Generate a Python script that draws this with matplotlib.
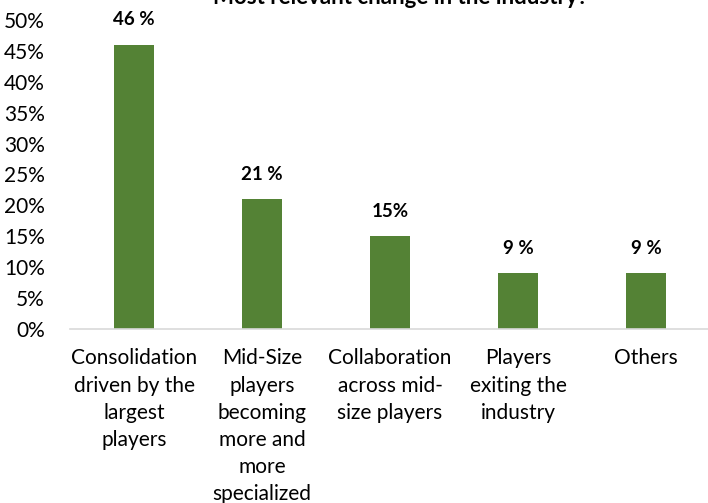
import matplotlib.pyplot as plt

plt.rcParams['font.family'] = ['Lato', 'DejaVu Sans']

categories = ['Consolidation\ndriven by the\nlargest\nplayers',
              'Mid-Size\nplayers\nbecoming\nmore and\nmore\nspecialized',
              'Collaboration\nacross mid-\nsize players',
              'Players\nexiting the\nindustry',
              'Others']
shares = [46, 21, 15, 9, 9]
value_labels = ['46 %', '21 %', '15%', '9 %', '9 %']
y_ticks = [0, 5, 10, 15, 20, 25, 30, 35, 40, 45, 50]

fig = plt.figure(figsize=(7.08, 5.03), dpi=100)
ax = fig.add_axes([70/708, 1-329/503, 640/708, 309/503])

x = range(len(categories))
bars = ax.bar(x, shares, width=0.31, color='#548235')

for b, lab in zip(bars, value_labels):
    ax.annotate(lab, (b.get_x() + b.get_width()/2, b.get_height()),
                xytext=(0, 18), textcoords='offset points',
                ha='center', va='center', fontsize=13.5, fontweight='bold')

ax.set_xlim(-0.5, 4.5)
ax.set_ylim(0, 50)
ax.set_yticks(y_ticks)
ax.set_yticklabels([f'{t}%' for t in y_ticks], fontsize=15)
ax.set_xticks(list(x))
ax.set_xticklabels(categories, fontsize=15, linespacing=1.45, va='top')
ax.tick_params(length=0)
ax.tick_params(axis='x', pad=14)
ax.tick_params(axis='y', pad=18)

for s in ['top', 'right', 'left']:
    ax.spines[s].set_visible(False)
ax.spines['bottom'].set_color('#d9d9d9')
ax.spines['bottom'].set_linewidth(1.2)

# title sits mostly above the top edge
fig.text(0.565, 1-3.5/503, 'Most relevant change in the industry?', ha='center',
         va='baseline', fontsize=16, fontweight='bold')

fig.savefig('out.png', dpi=100)
